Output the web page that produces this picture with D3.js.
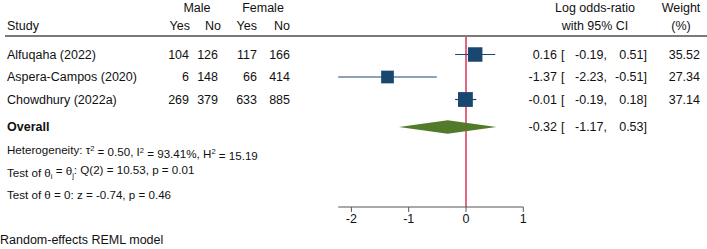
<!DOCTYPE html>
<html>
<head>
<meta charset="utf-8">
<script src="https://cdn.jsdelivr.net/npm/d3@7"></script>
<style>
  body { margin: 0; background: #fff; }
  svg text { font-family: "Liberation Sans", Arial, sans-serif; font-size: 12.5px; fill: #111; }
  svg text.stat { font-size: 11.6px; }
</style>
</head>
<body>
<div id="forest"></div>
<script>
// study level data
var studies = ["Alfuqaha (2022)", "Aspera-Campos (2020)", "Chowdhury (2022a)"];
var maleYes = [104, 6, 269];
var maleNo = [126, 148, 379];
var femaleYes = [117, 66, 633];
var femaleNo = [166, 414, 885];
var logOR = [0.16, -1.37, -0.01];
var ciLow = [-0.19, -2.23, -0.19];
var ciHigh = [0.51, -0.51, 0.18];
var weights = [35.52, 27.34, 37.14];

// overall (random effects)
var overallEst = [-0.32];
var overallLow = [-1.17];
var overallHigh = [0.53];

var xTicks = [-2, -1, 0, 1];

var width = 707, height = 249;

var svg = d3.select("#forest").append("svg")
    .attr("width", width)
    .attr("height", height);

var x = d3.scaleLinear().domain([0, 1]).range([466, 523.3]);
var rowY = d3.scaleLinear().domain([0, 1]).range([54.5, 77]);
var boxSize = d3.scaleSqrt().domain([0, 100]).range([0, 24.3]);

// plain hyphen for negatives, like the original
var loc = d3.formatLocale({decimal: ".", thousands: ",", grouping: [3], currency: ["", ""], minus: "-"});
var fmt = loc.format(".2f");
var fmtTick = loc.format("d");

function txt(xp, yp, s, anchor) {
    return svg.append("text")
        .attr("x", xp).attr("y", yp).attr("dy", "0.35em")
        .attr("text-anchor", anchor || "start")
        .text(s);
}

// headers
txt(197, 8, "Male", "middle");
txt(263, 8, "Female", "middle");
txt(7, 26, "Study");
txt(190, 26, "Yes", "end");
txt(221, 26, "No", "end");
txt(257, 26, "Yes", "end");
txt(290, 26, "No", "end");
txt(595, 8, "Log odds-ratio", "middle");
txt(595, 26, "with 95% CI", "middle");
txt(681, 8, "Weight", "middle");
txt(681, 26, "(%)", "middle");

svg.append("line")
    .attr("x1", 5).attr("x2", width)
    .attr("y1", 36).attr("y2", 36)
    .attr("stroke", "#7a7a7a")
    .attr("stroke-width", 2);

// no-effect line
svg.append("line")
    .attr("x1", x(0)).attr("x2", x(0))
    .attr("y1", 37).attr("y2", 207)
    .attr("stroke", "#d8143f")
    .attr("stroke-width", 1.3);

// study rows
studies.forEach(function (s, i) {
    var y = rowY(i);
    txt(7, y, s);
    txt(189, y, maleYes[i], "end");
    txt(218, y, maleNo[i], "end");
    txt(257, y, femaleYes[i], "end");
    txt(290, y, femaleNo[i], "end");
    txt(557, y, fmt(logOR[i]), "end");
    txt(561, y, "[");
    txt(607, y, fmt(ciLow[i]) + ",", "end");
    txt(647, y, fmt(ciHigh[i]) + "]", "end");
    txt(700, y, fmt(weights[i]), "end");
});

// CI lines and boxes
svg.selectAll(".ci")
    .data(studies)
    .join("line")
    .attr("class", "ci")
    .attr("x1", (d, i) => x(ciLow[i]))
    .attr("x2", (d, i) => x(ciHigh[i]))
    .attr("y1", (d, i) => rowY(i))
    .attr("y2", (d, i) => rowY(i))
    .attr("stroke", "#1a476f")
    .attr("stroke-width", 1.2);

svg.selectAll(".box")
    .data(studies)
    .join("rect")
    .attr("class", "box")
    .attr("x", (d, i) => x(logOR[i]) - boxSize(weights[i]) / 2)
    .attr("y", (d, i) => rowY(i) - boxSize(weights[i]) / 2)
    .attr("width", (d, i) => boxSize(weights[i]))
    .attr("height", (d, i) => boxSize(weights[i]))
    .attr("fill", "#1a476f");

// overall diamond
var oy = 127;
svg.append("text")
    .attr("x", 7).attr("y", oy).attr("dy", "0.35em")
    .style("font-weight", "bold")
    .text("Overall");
svg.append("path")
    .attr("d", "M" + x(overallLow[0]) + "," + oy +
        " L" + x(overallEst[0]) + "," + (oy - 6.7) +
        " L" + x(overallHigh[0]) + "," + oy +
        " L" + x(overallEst[0]) + "," + (oy + 6.7) + " Z")
    .attr("fill", "#527a2b");
txt(557, oy, fmt(overallEst[0]), "end");
txt(561, oy, "[");
txt(607, oy, fmt(overallLow[0]) + ",", "end");
txt(647, oy, fmt(overallHigh[0]) + "]", "end");

// heterogeneity and tests
function richLine(yp, parts) {
    var t = svg.append("text").attr("class", "stat")
        .attr("x", 7).attr("y", yp).attr("dy", "0.35em");
    parts.forEach(function (p) {
        if (p.sup) {
            t.append("tspan").attr("dy", "-0.45em").style("font-size", "7.5px").text(p.sup);
            t.append("tspan").attr("dy", "0.45em").text(p.after);
        } else if (p.sub) {
            t.append("tspan").attr("dy", "0.3em").style("font-size", "7.5px").text(p.sub);
            t.append("tspan").attr("dy", "-0.3em").text(p.after);
        } else {
            t.append("tspan").text(p.t);
        }
    });
}
richLine(150, [{t: "Heterogeneity: τ"}, {sup: "2", after: " = 0.50, I"},
    {sup: "2", after: " = 93.41%, H"}, {sup: "2", after: " = 15.19"}]);
richLine(172.5, [{t: "Test of θ"}, {sub: "i", after: " = θ"}, {sub: "j", after: ": Q(2) = 10.53, p = 0.01"}]);
richLine(195, [{t: "Test of θ = 0: z = -0.74, p = 0.46"}]);

// axis
var axis = svg.append("g").attr("transform", "translate(0,207)");
axis.append("line")
    .attr("x1", x(d3.min(ciLow))).attr("x2", x(d3.max(xTicks)))
    .attr("stroke", "#555").attr("stroke-width", 1);
axis.selectAll(".tick")
    .data(xTicks)
    .join("line")
    .attr("x1", d => x(d)).attr("x2", d => x(d))
    .attr("y1", 0).attr("y2", 5)
    .attr("stroke", "#555");
axis.selectAll(".tl")
    .data(xTicks)
    .join("text")
    .attr("x", d => x(d)).attr("y", 12).attr("dy", "0.35em")
    .attr("text-anchor", "middle")
    .text(d => fmtTick(d));

txt(0, 240, "Random-effects REML model");
</script>
</body>
</html>
